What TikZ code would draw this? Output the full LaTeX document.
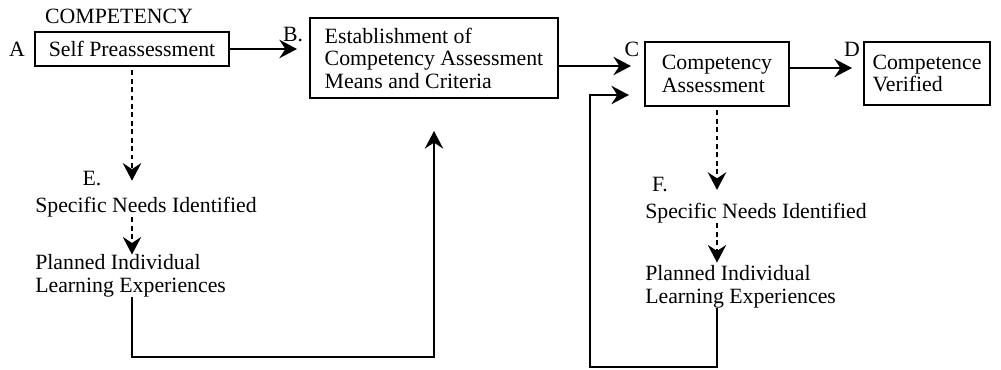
\documentclass[tikz,border=0pt]{standalone}
\usepackage{fontspec}
\setmainfont{Liberation Serif}
\usetikzlibrary{arrows.meta}

\begin{document}
\begin{tikzpicture}[x=0.025cm,y=-0.025cm,
  stage/.style={draw,line width=1.4pt,inner sep=0pt,font=\fontsize{15.5}{16}\selectfont},
  entry/.style={align=left,anchor=west,inner sep=0pt,font=\fontsize{15.5}{16}\selectfont},
  tag/.style={inner sep=0pt,font=\fontsize{15.5}{16}\selectfont},
  flow/.style={-{Stealth[length=4.4mm,width=4.6mm,inset=1.5mm]},line width=1.4pt},
  hint/.style={flow,dash pattern=on 3.5pt off 2.5pt}]
\useasboundingbox (0,0) rectangle (1001,369);
\node[tag] (title) at (119,16) {COMPETENCY};
\node[tag] (tagA) at (17,49) {A};
\node[tag] (tagB) at (293,35) {B.};
\node[tag] (tagC) at (632,49) {C};
\node[tag] (tagD) at (852,49) {D};
\node[tag] (tagE) at (92,179) {E.};
\node[tag] (tagF) at (660,185) {F.};
\node[stage,minimum width=4.85cm,minimum height=0.85cm] (preassess) at (132,49) {Self Preassessment};
\node[stage,align=left,minimum width=6.2cm,minimum height=2cm] (criteria) at (434,58) {Establishment of\\Competency Assessment\\Means and Criteria};
\node[stage,align=left,minimum width=3.6cm,minimum height=1.6cm] (assess) at (717,74) {Competency\\Assessment};
\node[stage,align=left,minimum width=3.15cm,minimum height=1.575cm] (verified) at (927,73.5) {Competence\\Verified};
\node[entry] (needsA) at (35,207) {Specific Needs Identified};
\node[entry] (planA) at (35,276) {Planned Individual\\Learning Experiences};
\node[entry] (needsC) at (645,213) {Specific Needs Identified};
\node[entry] (planC) at (645,287) {Planned Individual\\Learning Experiences};
\coordinate (loopC) at (590,367);
\draw[flow,shorten >=3mm] (preassess.east) -- (preassess.east -| criteria.west);
\draw[flow,shorten >=3.25mm] ([yshift=-0.2cm]criteria.east) -- ([yshift=-0.2cm]criteria.east -| assess.west);
\draw[flow,shorten >=2.75mm] ([yshift=0.15cm]assess.east) -- ([yshift=0.15cm]assess.east -| verified.west);
\draw[hint,shorten <=0.8mm,shorten >=4mm] (preassess.south) -- (preassess.south |- needsA.north);
\draw[hint] (needsA.south -| preassess.south) -- (planA.north -| preassess.south);
\draw[flow,shorten >=8mm] (planA.south -| preassess.south) -- ++(0,60) -| (criteria.south);
\draw[hint,shorten <=0.8mm,shorten >=3.2mm] (assess.south) -- (assess.south |- needsC.north);
\draw[hint,shorten >=0.75mm] (needsC.south -| assess.south) -- (planC.north -| assess.south);
\draw[flow,shorten >=3.75mm] (planC.south -| assess.south) |- (loopC) |- ([yshift=-0.525cm]assess.west);
\end{tikzpicture}
\end{document}
